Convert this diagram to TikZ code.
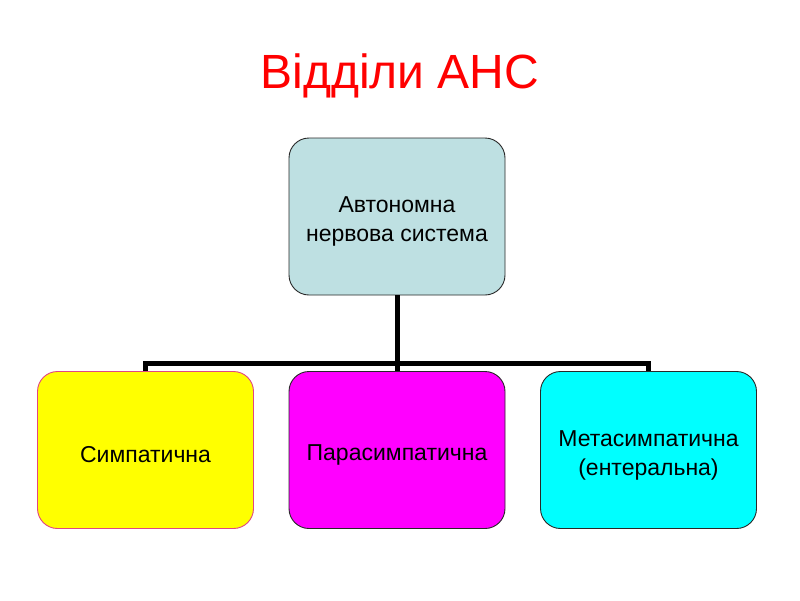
\documentclass[tikz,border=0pt]{standalone}
\usepackage{fontspec}
\setmainfont{Liberation Sans}
\definecolor{topfill}{RGB}{190,224,226}
\definecolor{yelborder}{RGB}{225,70,130}
\definecolor{boxborder}{RGB}{40,40,40}
\definecolor{yelfill}{RGB}{255,255,0}
\definecolor{magfill}{RGB}{255,0,255}
\definecolor{cyanfill}{RGB}{0,255,255}
\definecolor{titlered}{RGB}{255,0,0}
\begin{document}
\begin{tikzpicture}[x=1pt,y=-1pt,
  box/.style={draw=boxborder,line width=0.9pt,rounded corners=20pt,minimum width=216pt,minimum height=157pt,inner sep=0pt},
  boxtext/.style={align=center,inner sep=0pt,font=\fontsize{23}{29}\selectfont},
  conn/.style={line width=5pt,black}]
\useasboundingbox[fill=white] (0,0) rectangle (800,600);
\node[text=titlered,font=\fontsize{48}{56}\selectfont] (title) at (400,76) {Відділи АНС};
\node[box,fill=topfill] (ans) at (397,216.5) {};
\node[box,fill=yelfill,draw=yelborder] (sym) at (145.5,450) {};
\node[box,fill=magfill] (para) at (397,450) {};
\node[box,fill=cyanfill] (meta) at (648.5,450) {};
\node[boxtext] (anst) at ([yshift=-5pt]ans.center) {Автономна\\нервова система};
\node[boxtext] (symt) at ([yshift=-5pt]sym.center) {Симпатична};
\node[boxtext] (parat) at ([yshift=-5pt]para.center) {Парасимпатична};
\node[boxtext] (metat) at ([yshift=-5pt]meta.center) {Метасимпатична\\(ентеральна)};
\coordinate (hub) at (397,363);
\draw[conn] (ans.south) -- (hub);
\draw[conn] (sym.north) -- (sym.north |- hub) -- (meta.north |- hub) -- (meta.north);
\draw[conn] (hub) -- (para.north);
\end{tikzpicture}
\end{document}
